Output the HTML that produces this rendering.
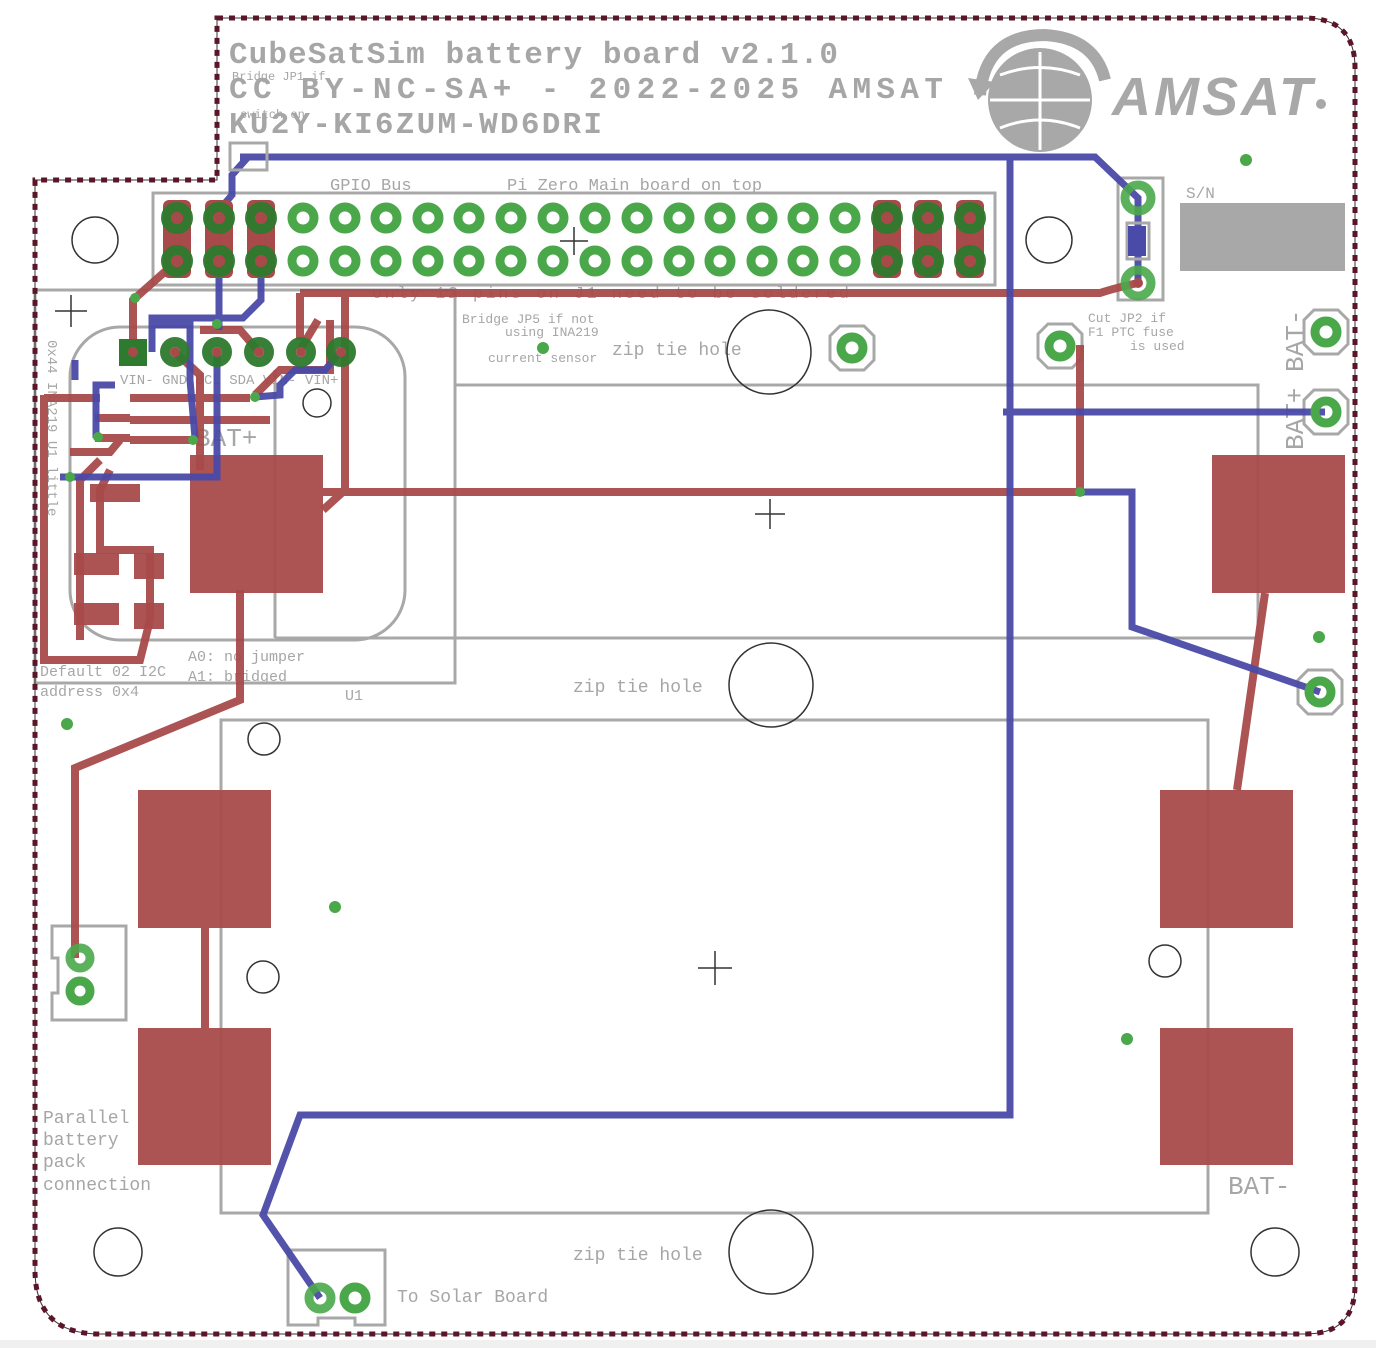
<!DOCTYPE html>
<html><head><meta charset="utf-8"><style>
html,body{margin:0;padding:0;background:#fff;}
svg{display:block;}
.t{font-family:"Liberation Mono",monospace;fill:#a6a6a6;}
</style></head><body>
<svg width="1376" height="1348" viewBox="0 0 1376 1348" xmlns="http://www.w3.org/2000/svg">
<rect x="0" y="1340" width="1376" height="8" fill="#f0f0f0"/>
<g fill="none" stroke="#a8a8a8" stroke-width="3">
<rect x="153" y="193" width="842" height="92"/>
<rect x="35" y="290" width="420" height="393"/>
<rect x="70" y="327" width="335" height="313" rx="50"/>
<path d="M455 385 H1258 V638 H275"/>
<path d="M275 370 V638"/>
<path d="M221 720 H1208 V1213 H221 Z"/>
<rect x="1118" y="178" width="45" height="122"/>
<path d="M52 926 H126 V1020 H52 V993 H58 V958 H52 Z"/>
<path d="M288 1250 H385 V1325 H355 V1318 H318 V1325 H288 Z"/>
</g>
<g fill="none" stroke="#a8a8a8" stroke-width="3">
<polygon points="840,326 864,326 874,336 874,360 864,370 840,370 830,360 830,336"/>
<polygon points="1048,324 1072,324 1082,334 1082,358 1072,368 1048,368 1038,358 1038,334"/>
<polygon points="1314,310 1338,310 1348,320 1348,344 1338,354 1314,354 1304,344 1304,320"/>
<polygon points="1314,390 1338,390 1348,400 1348,424 1338,434 1314,434 1304,424 1304,400"/>
<polygon points="1308,670 1332,670 1342,680 1342,704 1332,714 1308,714 1298,704 1298,680"/>
</g>
<rect x="1180" y="203" width="165" height="68" fill="#a8a8a8"/>
<text x="1186" y="198" class="t" font-size="16">S/N</text>
<g>
<circle cx="1040" cy="100" r="52" fill="#a8a8a8"/>
<g stroke="#fff" stroke-width="3" fill="none">
<line x1="1040" y1="52" x2="1040" y2="150"/>
<path d="M1000 75 Q1040 60 1080 75"/>
<path d="M990 100 H1090"/>
<path d="M1000 128 Q1040 112 1080 128"/>
</g>
<path d="M980 95 Q985 35 1045 35 Q1095 38 1105 80" fill="none" stroke="#a8a8a8" stroke-width="12"/>
<polygon points="968,78 995,82 978,100" fill="#a8a8a8"/>
<text x="1112" y="115" font-family="Liberation Sans,sans-serif" font-weight="bold" font-style="italic" font-size="54" fill="#a8a8a8" textLength="200">AMSAT</text>
<circle cx="1321" cy="104" r="5" fill="#a8a8a8"/>
</g>
<text x="229" y="63" class="t" font-size="31" font-weight="bold" textLength="609">CubeSatSim battery board v2.1.0</text>
<text x="229" y="98" class="t" font-size="31" font-weight="bold" textLength="714">CC BY-NC-SA+ - 2022-2025 AMSAT</text>
<text x="229" y="133" class="t" font-size="31" font-weight="bold" textLength="373">KU2Y-KI6ZUM-WD6DRI</text>
<text x="232" y="80" class="t" font-size="12">Bridge JP1 if</text>
<text x="240" y="118" class="t" font-size="12">switch on</text>
<text x="330" y="190" class="t" font-size="17">GPIO Bus</text>
<text x="507" y="190" class="t" font-size="17">Pi Zero Main board on top</text>
<text x="372" y="298" class="t" font-size="17" textLength="477">only 12 pins on J1 need to be soldered</text>
<text x="462" y="323" class="t" font-size="13">Bridge JP5 if not</text>
<text x="505" y="336" class="t" font-size="13">using INA219</text>
<text x="488" y="362" class="t" font-size="13">current sensor</text>
<text x="1088" y="322" class="t" font-size="13">Cut JP2 if</text>
<text x="1088" y="336" class="t" font-size="13">F1 PTC fuse</text>
<text x="1130" y="350" class="t" font-size="13">is used</text>
<text x="612" y="355" class="t" font-size="18">zip tie hole</text>
<text x="573" y="692" class="t" font-size="18">zip tie hole</text>
<text x="573" y="1260" class="t" font-size="18">zip tie hole</text>
<text x="397" y="1302" class="t" font-size="18">To Solar Board</text>
<text x="43" y="1123" class="t" font-size="18">Parallel</text>
<text x="43" y="1145" class="t" font-size="18">battery</text>
<text x="43" y="1167" class="t" font-size="18">pack</text>
<text x="43" y="1190" class="t" font-size="18">connection</text>
<text x="195" y="446" class="t" font-size="26">BAT+</text>
<text x="1228" y="1194" class="t" font-size="26">BAT-</text>
<text transform="translate(1303,450) rotate(-90)" class="t" font-size="26">BAT+ BAT-</text>
<text x="120" y="384" class="t" font-size="14">VIN- GND SCL SDA VIN- VIN+</text>
<text x="40" y="676" class="t" font-size="15">Default 02 I2C</text>
<text x="40" y="696" class="t" font-size="15">address 0x4</text>
<text x="188" y="661" class="t" font-size="15">A0: no jumper</text>
<text x="188" y="681" class="t" font-size="15">A1: bridged</text>
<text x="345" y="700" class="t" font-size="15">U1</text>
<text transform="translate(48,340) rotate(90)" class="t" font-size="14">0x44 INA219 U1 little</text>
<g fill="none" stroke="#333" stroke-width="1.5">
<circle cx="95" cy="240" r="23"/><circle cx="1049" cy="240" r="23"/>
<circle cx="769" cy="352" r="42"/><circle cx="771" cy="685" r="42"/><circle cx="771" cy="1252" r="42"/>
<circle cx="118" cy="1252" r="24"/><circle cx="1275" cy="1252" r="24"/>
<circle cx="264" cy="739" r="16"/><circle cx="263" cy="977" r="16"/><circle cx="1165" cy="961" r="16"/>
<circle cx="317" cy="403" r="14"/>
</g>
<g stroke="#333" stroke-width="1.5">
<path d="M755 514 H785 M770 499 V529"/><path d="M698 968 H732 M715 951 V985"/>
<path d="M55 311 H87 M71 295 V327"/><path d="M560 241 H588 M574 227 V255"/>
</g>
<g fill="#a84a4a" opacity="0.95">
<rect x="190" y="455" width="133" height="138"/>
<rect x="1212" y="455" width="133" height="138"/>
<rect x="138" y="790" width="133" height="138"/>
<rect x="138" y="1028" width="133" height="137"/>
<rect x="1160" y="790" width="133" height="138"/>
<rect x="1160" y="1028" width="133" height="137"/>
<rect x="90" y="484" width="50" height="18"/>
<rect x="74" y="553" width="45" height="22"/><rect x="134" y="553" width="30" height="26"/>
<rect x="74" y="603" width="45" height="22"/><rect x="134" y="603" width="30" height="26"/>
</g>
<g fill="none" stroke="#a84a4a" stroke-width="8" opacity="0.95">
<path d="M300 293 H1100 Q1115 288 1138 283"/>
<path d="M300 293 V340 M345 293 V490 L323 510"/>
<path d="M323 492 H1080 V345"/>
<path d="M240 590 V700 L75 768 V958"/>
<path d="M1265 593 L1237 790"/>
<path d="M205 928 V1028"/>
<path d="M133 352 V300 L177 261"/>
<path d="M44 398 V660 H140 L150 620"/>
<path d="M44 398 H100 M44 398 V395"/>
<path d="M130 398 H250 M130 420 H270 M130 440 H190 M130 418 H95 M130 438 H95"/>
<path d="M175 352 L200 375 V470 M259 352 L240 330 H200"/>
<path d="M255 395 L280 370 H330 V320 M318 320 L300 350"/>
<path d="M70 452 H110 L120 440"/>
<path d="M100 460 L80 480 V640 M110 470 L100 490 V550 H150 V620"/>
</g>
<g fill="none" stroke="#4a4aa8" stroke-width="7" opacity="0.95">
<path d="M240 157 H1095 L1138 198 V283"/>
<path d="M1010 155 V1115 H300 L263 1215 L320 1298"/>
<path d="M1003 412 H1325"/>
<path d="M1080 492 H1132 V627 L1320 692"/>
<path d="M248 157 L232 175 V195 L219 210 V330"/>
<path d="M219 261 V330 M261 261 V300 L243 318 H152 V352"/>
<path d="M150 325 H190 V380 L195 438"/>
<path d="M217 352 V477 H60"/>
<path d="M340 352 L325 370 H295 L280 385 V395 L255 397"/>
<path d="M115 385 H96 V438 M75 380 V360"/>
</g>
<rect x="230" y="143" width="37" height="27" fill="none" stroke="#a8a8a8" stroke-width="3"/>
<rect x="1127" y="223" width="22" height="36" fill="none" stroke="#a8a8a8" stroke-width="3"/>
<rect x="1128" y="226" width="18" height="30" fill="#4a4aa8"/>
<g>
<rect x="163" y="200" width="28" height="78" rx="6" fill="#a84a4a"/>
<rect x="205" y="200" width="28" height="78" rx="6" fill="#a84a4a"/>
<rect x="247" y="200" width="28" height="78" rx="6" fill="#a84a4a"/>
<rect x="873" y="200" width="28" height="78" rx="6" fill="#a84a4a"/>
<rect x="914" y="200" width="28" height="78" rx="6" fill="#a84a4a"/>
<rect x="956" y="200" width="28" height="78" rx="6" fill="#a84a4a"/>
</g>
<g fill="none" stroke="#4aa84a" stroke-width="9">
<circle cx="303" cy="218" r="11"/><circle cx="345" cy="218" r="11"/><circle cx="386" cy="218" r="11"/><circle cx="428" cy="218" r="11"/><circle cx="469" cy="218" r="11"/><circle cx="511" cy="218" r="11"/><circle cx="553" cy="218" r="11"/><circle cx="595" cy="218" r="11"/><circle cx="637" cy="218" r="11"/><circle cx="679" cy="218" r="11"/><circle cx="720" cy="218" r="11"/><circle cx="762" cy="218" r="11"/><circle cx="803" cy="218" r="11"/><circle cx="845" cy="218" r="11"/>
<circle cx="303" cy="261" r="11"/><circle cx="345" cy="261" r="11"/><circle cx="386" cy="261" r="11"/><circle cx="428" cy="261" r="11"/><circle cx="469" cy="261" r="11"/><circle cx="511" cy="261" r="11"/><circle cx="553" cy="261" r="11"/><circle cx="595" cy="261" r="11"/><circle cx="637" cy="261" r="11"/><circle cx="679" cy="261" r="11"/><circle cx="720" cy="261" r="11"/><circle cx="762" cy="261" r="11"/><circle cx="803" cy="261" r="11"/><circle cx="845" cy="261" r="11"/>
<circle cx="80" cy="991" r="10"/><circle cx="355" cy="1298" r="11"/>
<circle cx="852" cy="348" r="11"/><circle cx="1326" cy="332" r="11"/><circle cx="1326" cy="412" r="11"/><circle cx="1320" cy="692" r="11"/><circle cx="1060" cy="346" r="11"/>
</g>
<g fill="none" stroke="#2e7a2e" stroke-width="10" opacity="0.95">
<circle cx="177" cy="218" r="11"/><circle cx="219" cy="218" r="11"/><circle cx="261" cy="218" r="11"/><circle cx="887" cy="218" r="11"/><circle cx="928" cy="218" r="11"/><circle cx="970" cy="218" r="11"/>
<circle cx="177" cy="261" r="11"/><circle cx="219" cy="261" r="11"/><circle cx="261" cy="261" r="11"/><circle cx="887" cy="261" r="11"/><circle cx="928" cy="261" r="11"/><circle cx="970" cy="261" r="11"/>
<circle cx="175" cy="352" r="10"/><circle cx="217" cy="352" r="10"/><circle cx="259" cy="352" r="10"/><circle cx="301" cy="352" r="10"/><circle cx="341" cy="352" r="10"/>
</g>
<g fill="#a84a4a">
<circle cx="177" cy="218" r="6"/><circle cx="219" cy="218" r="6"/><circle cx="261" cy="218" r="6"/><circle cx="887" cy="218" r="6"/><circle cx="928" cy="218" r="6"/><circle cx="970" cy="218" r="6"/>
<circle cx="177" cy="261" r="6"/><circle cx="219" cy="261" r="6"/><circle cx="261" cy="261" r="6"/><circle cx="887" cy="261" r="6"/><circle cx="928" cy="261" r="6"/><circle cx="970" cy="261" r="6"/>
<circle cx="175" cy="352" r="5"/><circle cx="217" cy="352" r="5"/><circle cx="259" cy="352" r="5"/><circle cx="301" cy="352" r="5"/><circle cx="341" cy="352" r="5"/>
</g>
<rect x="119" y="339" width="28" height="27" fill="#2e7a2e"/><circle cx="133" cy="352" r="5" fill="#a84a4a"/>
<g fill="none" stroke="#4aa84a" stroke-width="9" opacity="0.9">
<circle cx="1138" cy="198" r="13"/><circle cx="1138" cy="283" r="13"/><circle cx="80" cy="958" r="10"/><circle cx="320" cy="1298" r="11"/>
</g>
<circle cx="1138" cy="283" r="5" fill="#a84a4a"/>
<g fill="#4aa84a">
<circle cx="1246" cy="160" r="6"/><circle cx="1319" cy="637" r="6"/><circle cx="67" cy="724" r="6"/><circle cx="335" cy="907" r="6"/><circle cx="1127" cy="1039" r="6"/><circle cx="543" cy="348" r="6"/><circle cx="1080" cy="492" r="5"/><circle cx="135" cy="298" r="5"/><circle cx="217" cy="324" r="5"/><circle cx="98" cy="437" r="5"/><circle cx="193" cy="440" r="5"/><circle cx="255" cy="397" r="5"/><circle cx="70" cy="477" r="5"/>
</g>
<path d="M217 18 H1305 Q1355 18 1355 68 V1285 Q1355 1334 1305 1334 H100 Q35 1334 35 1270 V180 H217 Z" fill="none" stroke="#333" stroke-width="1"/>
<path d="M217 18 H1305 Q1355 18 1355 68 V1285 Q1355 1334 1305 1334 H100 Q35 1334 35 1270 V180 H217 Z" fill="none" stroke="#5c1428" stroke-width="5" stroke-dasharray="6 6"/>
</svg>
</body></html>
